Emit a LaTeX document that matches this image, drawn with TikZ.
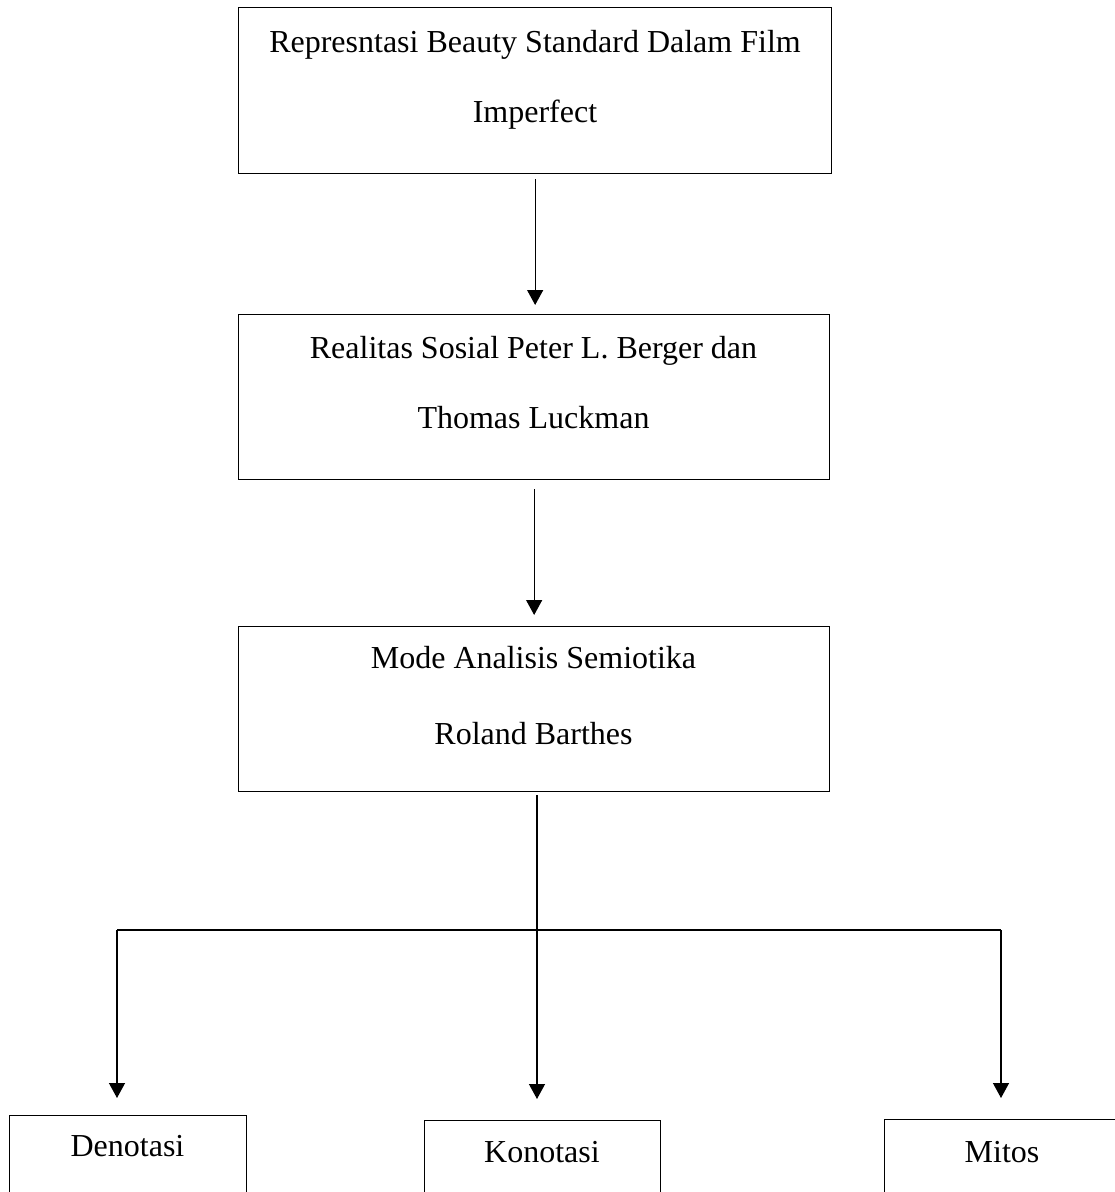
\documentclass[tikz,border=0pt]{standalone}
\usepackage{fontspec}
\setmainfont{Liberation Serif}
\usetikzlibrary{arrows.meta}
\tikzset{
  box/.style={draw, line width=1.3pt, rectangle, inner sep=0pt, anchor=north west},
  txt/.style={font=\fontsize{32}{38}\selectfont, anchor=base, inner sep=0pt},
  arr/.style={line width=1.3pt, -{Triangle[width=16pt,length=15pt]}},
  ln/.style={line width=1.3pt},
}
\begin{document}
\begin{tikzpicture}[x=1pt,y=-1pt]
\useasboundingbox (0,0) rectangle (1115,1192);
\clip (0,0) rectangle (1115,1192);
\fill[white] (0,0) rectangle (1115,1192);
% main boxes
\node[box, minimum width=593pt, minimum height=166pt] (b1) at (238,7) {};
\node[txt] (t1a) at (535,52) {Represntasi Beauty Standard Dalam Film};
\node[txt] (t1b) at (535,122) {Imperfect};
\node[box, minimum width=591pt, minimum height=165pt] (b2) at (238,314) {};
\node[txt] (t2a) at (533.5,358) {Realitas Sosial Peter L. Berger dan};
\node[txt] (t2b) at (533.5,428) {Thomas Luckman};
\node[box, minimum width=591pt, minimum height=165pt] (b3) at (238,626) {};
\node[txt] (t3a) at (533.5,668) {Mode Analisis Semiotika};
\node[txt] (t3b) at (533.5,744) {Roland Barthes};
% bottom boxes
\node[box, minimum width=237pt, minimum height=120pt] (d) at (9,1115) {};
\node[txt] (td) at (127.5,1156) {Denotasi};
\node[box, minimum width=236pt, minimum height=120pt] (k) at (424,1120) {};
\node[txt] (tk) at (542,1162) {Konotasi};
\node[box, minimum width=260pt, minimum height=120pt] (m) at (884,1119) {};
\node[txt] (tm) at (1002,1162) {Mitos};
% connectors
\draw[arr, shorten <=5pt, shorten >=9pt] (b1.south) -- (b2.north -| b1.south);
\draw[arr, shorten <=9pt, shorten >=11pt] (b2.south) -- (b3.north -| b2.south);
\coordinate (j) at (537,930);
\coordinate (jl) at (117,930);
\coordinate (jr) at (1001,930);
\coordinate (s) at (537,795);
\draw[ln] (s) -- (j);
\draw[ln] (jl) -- (jr);
\draw[arr, shorten >=17pt] (jl) -- (d.north -| jl);
\draw[arr, shorten >=21pt] (j) -- (k.north -| j);
\draw[arr, shorten >=21pt] (jr) -- (m.north -| jr);
\end{tikzpicture}
\end{document}
